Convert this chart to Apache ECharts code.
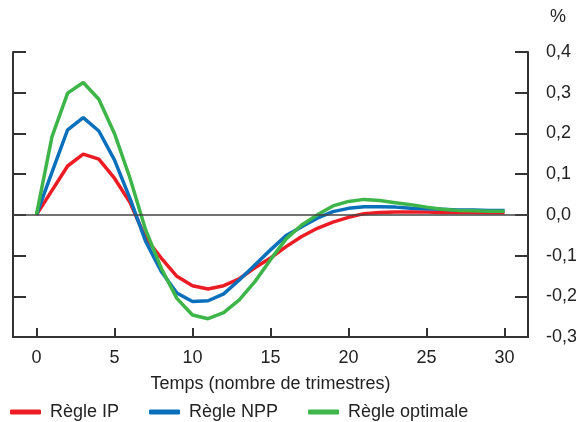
<!DOCTYPE html>
<html>
<head>
<meta charset="utf-8">
<script src="https://cdn.jsdelivr.net/npm/echarts@6/dist/echarts.min.js"></script>
<style>
    html, body {margin: 0; padding: 0; background: #fff;}
    #chart {width: 576px; height: 422px;}
</style>
</head>
<body>
<div id="chart"></div>
<script>
// trimestres 0..30
var quarters = [];
for (var i = 0; i <= 30; i++) quarters.push(i);

var xTicks = [0, 5, 10, 15, 20, 25, 30];

var regleIP = [0, 0.06, 0.12, 0.149, 0.137, 0.09, 0.03, -0.057, -0.106, -0.151, -0.174, -0.182, -0.174, -0.157, -0.13,
    -0.106, -0.078, -0.053, -0.033, -0.018, -0.006, 0.003, 0.006, 0.007, 0.007, 0.007, 0.006, 0.006, 0.006, 0.005, 0.005];
var regleNPP = [0, 0.105, 0.209, 0.239, 0.206, 0.135, 0.04, -0.065, -0.139, -0.192, -0.213, -0.211, -0.194, -0.16, -0.123,
    -0.086, -0.051, -0.029, -0.008, 0.008, 0.016, 0.02, 0.02, 0.019, 0.016, 0.015, 0.014, 0.012, 0.012, 0.011, 0.011];
var regleOpt = [0, 0.192, 0.299, 0.325, 0.284, 0.2, 0.09, -0.037, -0.131, -0.205, -0.246, -0.255, -0.24, -0.209, -0.164,
    -0.11, -0.059, -0.025, 0.0, 0.022, 0.033, 0.038, 0.035, 0.03, 0.025, 0.019, 0.014, 0.011, 0.01, 0.009, 0.009];

function pairs(values) {
    return values.map(function (v, i) { return [quarters[i], v]; });
}

var axisColor = '#333';
var textColor = '#222';
var font = 'Liberation Sans, Arial, sans-serif';
var fs = 18;

var chart = echarts.init(document.getElementById('chart'));
chart.setOption({
    animation: false,
    grid: {left: 13, right: 48, top: 52, bottom: 85, outerBoundsMode: 'none', containLabel: false},
    legend: {
        left: 10,
        bottom: 1,
        padding: 0,
        itemWidth: 31,
        itemHeight: 5,
        itemGap: 30,
        icon: 'roundRect',
        textStyle: {fontFamily: font, fontSize: fs, color: textColor, padding: [0, 0, 0, 4]},
        data: ['Règle IP', 'Règle NPP', 'Règle optimale']
    },
    xAxis: {
        type: 'value',
        min: -1.5,
        max: 31.5,
        name: 'Temps (nombre de trimestres)',
        nameLocation: 'middle',
        nameGap: 38,
        nameTextStyle: {fontFamily: font, fontSize: fs, color: textColor},
        axisLine: {onZero: false, lineStyle: {color: axisColor, width: 2}},
        axisTick: {inside: true, length: 9, customValues: xTicks, lineStyle: {color: axisColor, width: 2}},
        axisLabel: {customValues: xTicks, margin: 12, fontFamily: font, fontSize: fs, color: textColor},
        splitLine: {show: false}
    },
    yAxis: [
        {
            type: 'value',
            position: 'right',
            min: -0.3,
            max: 0.4,
            interval: 0.1,
            name: '%',
            nameGap: 26,
            nameTextStyle: {fontFamily: font, fontSize: fs, color: textColor, align: 'left', padding: [0, 0, 0, 22]},
            axisLine: {show: true, onZero: false, lineStyle: {color: axisColor, width: 2}},
            axisTick: {show: true, inside: true, length: 13, lineStyle: {color: axisColor, width: 2}},
            axisLabel: {
                margin: 18,
                fontFamily: font,
                fontSize: fs,
                color: textColor,
                formatter: function (v) {
                    return (Math.round(v * 10) / 10).toFixed(1).replace('.', ',');
                }
            },
            splitLine: {show: false}
        },
        {
            type: 'value',
            position: 'left',
            min: -0.3,
            max: 0.4,
            interval: 0.1,
            axisLine: {show: true, onZero: false, lineStyle: {color: axisColor, width: 2}},
            axisTick: {show: true, inside: true, length: 13, lineStyle: {color: axisColor, width: 2}},
            axisLabel: {show: false},
            splitLine: {show: false}
        }
    ],
    series: [
        {
            name: 'Règle IP',
            type: 'line',
            data: pairs(regleIP),
            showSymbol: false,
            color: '#ec1c24',
            lineStyle: {width: 3.5},
            markLine: {
                silent: true,
                symbol: 'none',
                label: {show: false},
                lineStyle: {color: '#444', width: 1.5, type: 'solid'},
                data: [{yAxis: 0}]
            }
        },
        {
            name: 'Règle NPP',
            type: 'line',
            data: pairs(regleNPP),
            showSymbol: false,
            color: '#0a70bb',
            lineStyle: {width: 3.5}
        },
        {
            name: 'Règle optimale',
            type: 'line',
            data: pairs(regleOpt),
            showSymbol: false,
            color: '#3db549',
            lineStyle: {width: 3.5}
        }
    ]
});
</script>
</body>
</html>
